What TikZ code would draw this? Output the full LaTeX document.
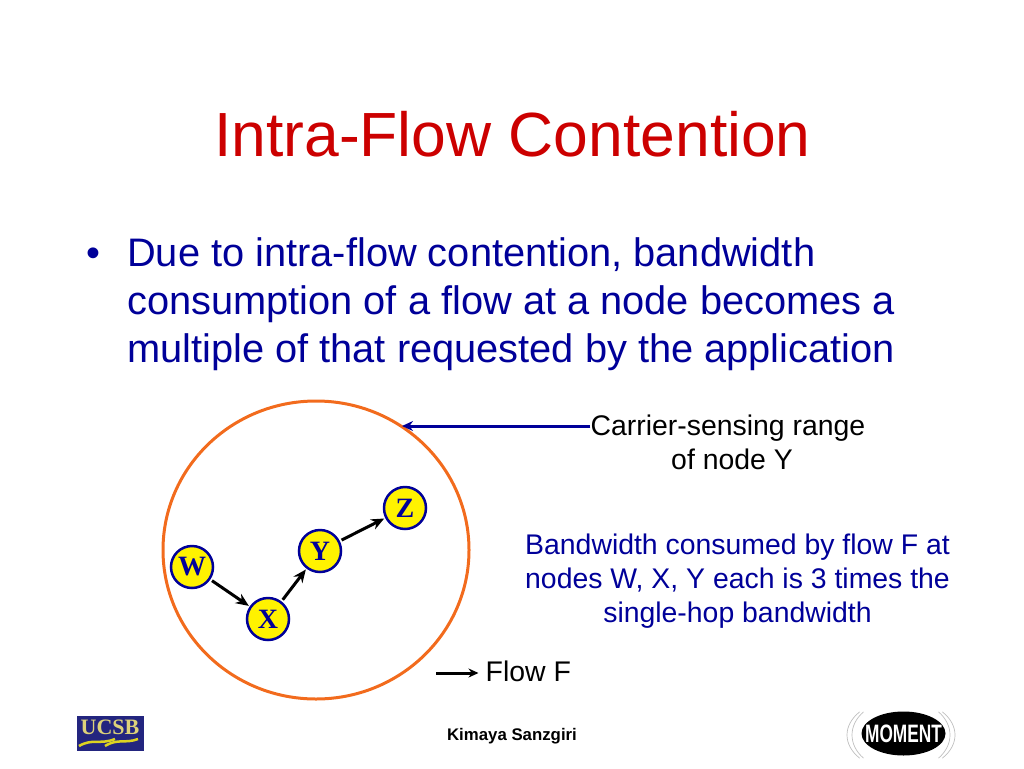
\documentclass[tikz,border=0pt]{standalone}
\usepackage{fontspec}
\setmainfont{Liberation Sans}
\newfontfamily\stationfont{Liberation Serif}[Scale=1]
\usetikzlibrary{arrows.meta,positioning,shapes.geometric}
\definecolor{slidered}{HTML}{CC0000}
\definecolor{slidenavy}{HTML}{000099}
\definecolor{rangeorange}{HTML}{F26B1D}
\definecolor{ucsbblue}{HTML}{23257F}
\definecolor{ucsbgold}{HTML}{DDD27A}
\tikzset{
  station/.style={circle,draw=slidenavy,line width=2.5pt,fill=yellow,minimum size=42pt,inner sep=0pt,
    text=slidenavy,font=\stationfont\bfseries\fontsize{28}{28}\selectfont},
  hop/.style={-{Stealth[length=13pt,width=11pt]},line width=3pt,black,shorten >=1pt,shorten <=2pt},
  bodyline/.style={anchor=base west,inner sep=0pt,text=slidenavy,font=\fontsize{39.8}{39.8}\selectfont},
  remark/.style={align=center,inner sep=0pt,font=\fontsize{28.4}{34}\selectfont},
}
\begin{document}
\begin{tikzpicture}[x=1pt,y=-1pt]
  \useasboundingbox (0,0) rectangle (1024,768);
  \node[inner sep=0pt,text=slidered,font=\fontsize{62.4}{62.4}\selectfont] (title) at (512.5,134) {Intra-Flow Contention};

  \node[bodyline] (bullet) at (86,266.5) {•};
  \foreach[count=\i,evaluate={\ly=266.5+(\i-1)*48}] \t in {{Due to intra-flow contention, bandwidth},{consumption of a flow at a node becomes a},{multiple of that requested by the application}} {
    \node[bodyline] (line\i) at (127,\ly) {\t};
  }

  \draw[rangeorange,line width=3pt] (316,550) ellipse [x radius=153,y radius=149];
  \coordinate (rangeedge) at (402,426);

  \node[station] (w) at (192,567) {W};
  \node[station] (x) at (268,619) {X};
  \node[station] (y) at (320,551) {Y};
  \node[station] (z) at (405,508) {Z};
  \draw[hop] (w) -- (x);
  \draw[hop] (x) -- (y);
  \draw[hop] (y) -- (z);

  \node[remark] (carrier) at (728,442.5) {Carrier-sensing range\\\hspace*{8pt}of node Y};
  \draw[-{Stealth[length=11pt,width=10pt]},slidenavy,line width=3pt] (carrier.west |- rangeedge) -- (rangeedge);

  \node[remark,text=slidenavy] (consumed) at (737.5,581.5) {Bandwidth consumed by flow F at\\nodes W, X, Y each is 3 times the\\single-hop bandwidth};

  \node[remark,anchor=west] (flow) at (485.5,671.5) {Flow F};
  \coordinate (flowstart) at (436,673);
  \draw[-{Stealth[length=10pt,width=9pt]},line width=3pt,shorten >=7pt] (flowstart) -- (flow.west |- flowstart);

  \node[inner sep=0pt,font=\bfseries\fontsize{16.8}{16.8}\selectfont] (author) at (512,736) {Kimaya Sanzgiri};

  % logos
  \node[draw=none,fill=ucsbblue,minimum width=67pt,minimum height=35pt,inner sep=0pt] (ucsb) at (110.5,733.5) {};
  \node[inner sep=0pt,text=ucsbgold,font=\stationfont\bfseries\fontsize{22}{22}\selectfont] (ucsbtext) at (110,727) {UCSB};
  \draw[yellow!85!black,line width=2.5pt] (79,746) .. controls (93,738) and (100,745) .. (115,739);
  \draw[yellow!85!black,line width=2.5pt] (105,746) .. controls (118,738) and (125,744) .. (138,739);

  \node[ellipse,fill=black,minimum width=84pt,minimum height=44pt,inner sep=0pt] (momentbg) at (903.5,733.5) {};
  \node[inner sep=0pt,text=white,font=\bfseries\fontsize{24}{24}\selectfont] (moment) at (903.5,733.5) {\scalebox{0.72}[1.05]{MOMENT}};
  \foreach \r in {49,54} {
    \draw[gray!50,line width=0.7pt] (901,735) ++(140:\r pt and 36pt) arc [start angle=140,end angle=220,x radius=\r pt,y radius=36pt];
    \draw[gray!50,line width=0.7pt] (901,735) ++(-40:\r pt and 36pt) arc [start angle=-40,end angle=40,x radius=\r pt,y radius=36pt];
  }
\end{tikzpicture}
\end{document}
